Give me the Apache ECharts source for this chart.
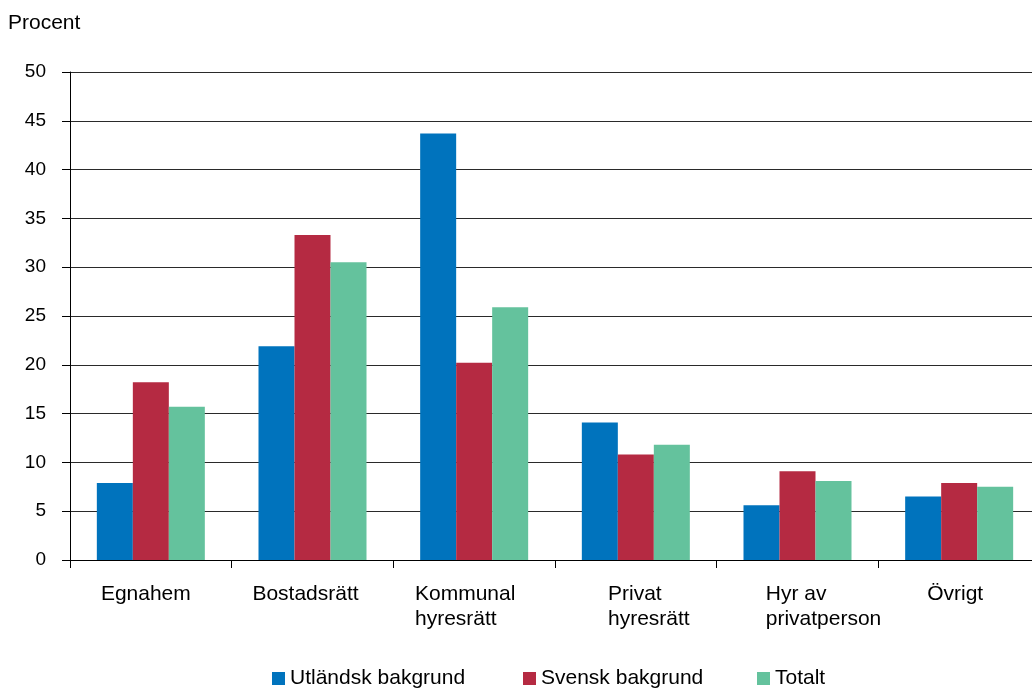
<!DOCTYPE html>
<html>
<head>
<meta charset="utf-8">
<script src="https://cdn.jsdelivr.net/npm/echarts@6/dist/echarts.min.js"></script>
<style>
  html, body { margin: 0; padding: 0; background: #fff; overflow: hidden; }
  /* the plot runs a few pixels past the right edge of the page */
  #chart { width: 1040px; height: 688px; }
</style>
</head>
<body>
<div id="chart"></div>
<script>
// Housing type by background (percent)
const categories = ['Egnahem', 'Bostadsrätt', 'Kommunal\nhyresrätt', 'Privat\nhyresrätt', 'Hyr av\nprivatperson', 'Övrigt'];
const seriesNames = ['Utländsk bakgrund', 'Svensk bakgrund', 'Totalt'];
const utlandsk = [7.9, 21.9, 43.7, 14.1, 5.6, 6.5];
const svensk = [18.2, 33.3, 20.2, 10.8, 9.1, 7.9];
const totalt = [15.7, 30.5, 25.9, 11.8, 8.1, 7.5];
const yTicks = { min: 0, max: 50, step: 5 };

// horizontal nudge (px) of each category label from its slot centre
const labelShift = [-5, -7, -9, 13, 26, -4];

const colors = ['#0073BD', '#B52A42', '#64C29D'];
const font = 'Liberation Sans, Arial, sans-serif';

const chart = echarts.init(document.getElementById('chart'), null, { renderer: 'canvas' });

// one legend per item so each sits at its own spot along the bottom
const legendLefts = [272, 523, 757];
const legends = seriesNames.map((name, i) => ({
  data: [name],
  left: legendLefts[i],
  top: 668,
  icon: 'rect',
  itemWidth: 13,
  itemHeight: 13,
  itemGap: 0,
  itemStyle: { borderWidth: 0 },
  textStyle: { fontFamily: font, fontSize: 21, color: '#000' },
  padding: 0
}));

// centred labels move by half the difference of left/right padding
const categoryItems = categories.map((c, i) => {
  const d = labelShift[i];
  return {
    value: c,
    textStyle: { padding: [0, d < 0 ? -2 * d : 0, 0, d > 0 ? 2 * d : 0] }
  };
});

chart.setOption({
  animation: false,
  color: colors,
  graphic: [{
    type: 'text',
    left: 8,
    top: 13,
    style: { text: 'Procent', font: '21px ' + font, fill: '#000' }
  }],
  legend: legends,
  grid: { left: 70, top: 72, width: 970, height: 488, containLabel: false },
  xAxis: {
    type: 'category',
    data: categoryItems,
    axisLine: { lineStyle: { color: '#000', width: 1 } },
    axisTick: { show: true, length: 8, alignWithLabel: false, lineStyle: { color: '#000' } },
    axisLabel: {
      margin: 22,
      interval: 0,
      fontFamily: font,
      fontSize: 21,
      color: '#000',
      lineHeight: 25,
      formatter: v => v.split('\n').map(s => '{a|' + s + '}').join('\n'),
      rich: { a: { fontFamily: font, fontSize: 21, color: '#000', lineHeight: 25, align: 'left' } }
    }
  },
  yAxis: {
    type: 'value',
    min: yTicks.min,
    max: yTicks.max,
    interval: yTicks.step,
    axisLine: { show: true, lineStyle: { color: '#000', width: 1 } },
    axisTick: { show: true, length: 8, lineStyle: { color: '#000' } },
    splitLine: { show: true, lineStyle: { color: '#2a2a2a', width: 1 } },
    axisLabel: { margin: 24, fontFamily: font, fontSize: 19, color: '#000' }
  },
  series: [
    { name: seriesNames[0], type: 'bar', data: utlandsk, barWidth: 36, barGap: '0%' },
    { name: seriesNames[1], type: 'bar', data: svensk, barWidth: 36, barGap: '0%' },
    { name: seriesNames[2], type: 'bar', data: totalt, barWidth: 36, barGap: '0%' }
  ]
});
</script>
</body>
</html>
